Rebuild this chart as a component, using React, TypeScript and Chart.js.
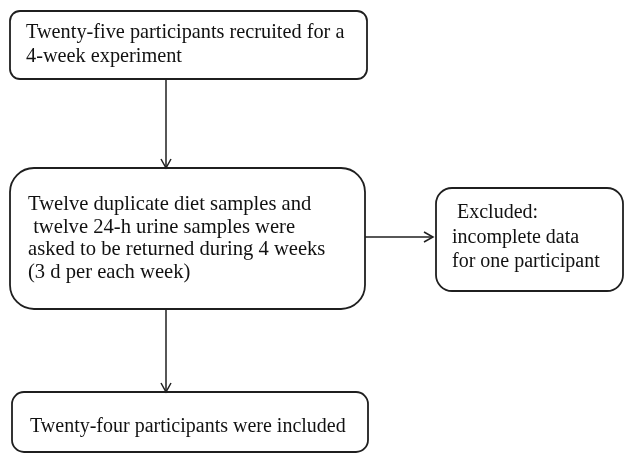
import React, { useEffect, useRef } from "react";
import { Chart, registerables } from "chart.js";

Chart.register(...registerables);

// Flowchart content
const nodeIds = ["recruited", "samples", "excluded", "included"];
const nodeLines: string[][] = [
  ["Twenty-five participants recruited for a", "4-week experiment"],
  [
    "Twelve duplicate diet samples and",
    " twelve 24-h urine samples were",
    "asked to be returned during 4 weeks",
    "(3 d per each week)",
  ],
  [" Excluded:", "incomplete data", "for one participant"],
  ["Twenty-four participants were included"],
];
const edgeFrom = ["recruited", "samples", "samples"];
const edgeTo = ["samples", "included", "excluded"];

// Layout (in a 624 x 457 coordinate space)
const layout: Record<string, { x0: number; y0: number; x1: number; y1: number; r: number; tx: number; ty: number; lh: number; fs: number }> = {
  recruited: { x0: 10, y0: 11, x1: 367, y1: 79, r: 10, tx: 26, ty: 33, lh: 24, fs: 20.3 },
  samples: { x0: 10, y0: 168, x1: 365, y1: 309, r: 24, tx: 28, ty: 205, lh: 22.5, fs: 20.6 },
  excluded: { x0: 436, y0: 188, x1: 623, y1: 291, r: 16, tx: 452, ty: 213, lh: 24.5, fs: 20 },
  included: { x0: 12, y0: 392, x1: 368, y1: 452, r: 12, tx: 30, ty: 427, lh: 24, fs: 20 },
};
const edgeStyle: Record<string, "down" | "right"> = {
  "recruited>samples": "down",
  "samples>included": "down",
  "samples>excluded": "right",
};
const trunkX = 166;
const sideY = 237;

const flowPlugin = {
  id: "flow",
  afterDraw(chart: any) {
    const ctx = chart.ctx as CanvasRenderingContext2D;
    const sx = chart.scales.x;
    const sy = chart.scales.y;
    const px = (v: number) => sx.getPixelForValue(v);
    const py = (v: number) => sy.getPixelForValue(v);
    ctx.save();
    ctx.strokeStyle = "#1f1f1f";
    ctx.lineWidth = 1.8;
    nodeIds.forEach((id, i) => {
      const L = layout[id];
      const x0 = px(L.x0), x1 = px(L.x1), y0 = py(L.y0), y1 = py(L.y1);
      ctx.beginPath();
      (ctx as any).roundRect(x0, y0, x1 - x0, y1 - y0, L.r);
      ctx.fillStyle = "#ffffff";
      ctx.fill();
      ctx.stroke();
      ctx.fillStyle = "#111";
      ctx.font = `${L.fs}px "Liberation Serif", "Times New Roman", serif`;
      ctx.textBaseline = "middle";
      ctx.textAlign = "left";
      nodeLines[i].forEach((line, j) => {
        ctx.fillText(line, px(L.tx), py(L.ty + j * L.lh));
      });
    });
    const arrowHead = (x: number, y: number, dir: "down" | "right") => {
      ctx.beginPath();
      if (dir === "down") {
        ctx.moveTo(x - 5, y - 9);
        ctx.lineTo(x, y);
        ctx.lineTo(x + 5, y - 9);
      } else {
        ctx.moveTo(x - 9, y - 5);
        ctx.lineTo(x, y);
        ctx.lineTo(x - 9, y + 5);
      }
      ctx.stroke();
    };
    ctx.lineWidth = 1.5;
    edgeFrom.forEach((f, k) => {
      const t = edgeTo[k];
      const A = layout[f], B = layout[t];
      const style = edgeStyle[f + ">" + t];
      if (style === "down") {
        const x = px(trunkX);
        const ya = py(A.y1), yb = py(B.y0);
        ctx.beginPath();
        ctx.moveTo(x, ya);
        ctx.lineTo(x, yb);
        ctx.stroke();
        arrowHead(x, yb, "down");
      } else {
        const y = py(sideY);
        const xa = px(A.x1), xb = px(B.x0) - 3;
        ctx.beginPath();
        ctx.moveTo(xa, y);
        ctx.lineTo(xb, y);
        ctx.stroke();
        arrowHead(xb, y, "right");
      }
    });
    ctx.restore();
  },
};

export default function App() {
  const ref = useRef<HTMLCanvasElement | null>(null);
  useEffect(() => {
    if (!ref.current) return;
    const centers = nodeIds.map((id) => {
      const L = layout[id];
      return { x: (L.x0 + L.x1) / 2, y: (L.y0 + L.y1) / 2 };
    });
    const chart = new Chart(ref.current, {
      type: "scatter",
      data: {
        datasets: [
          { data: centers, pointRadius: 0, pointHoverRadius: 0, showLine: false },
        ],
      },
      options: {
        animation: false,
        responsive: false,
        maintainAspectRatio: false,
        devicePixelRatio: 1,
        layout: { padding: 0 },
        plugins: { legend: { display: false }, tooltip: { enabled: false } },
        events: [],
        scales: {
          x: { type: "linear", min: 0, max: 624, display: false },
          y: { type: "linear", min: 0, max: 457, reverse: true, display: false },
        },
      },
      plugins: [flowPlugin],
    });
    return () => chart.destroy();
  }, []);
  return (
    <div style={{ position: "fixed", left: 0, top: 0, width: 624, height: 457, background: "#fff" }}>
      <canvas ref={ref} width={624} height={457} style={{ width: 624, height: 457, display: "block" }} />
    </div>
  );
}
